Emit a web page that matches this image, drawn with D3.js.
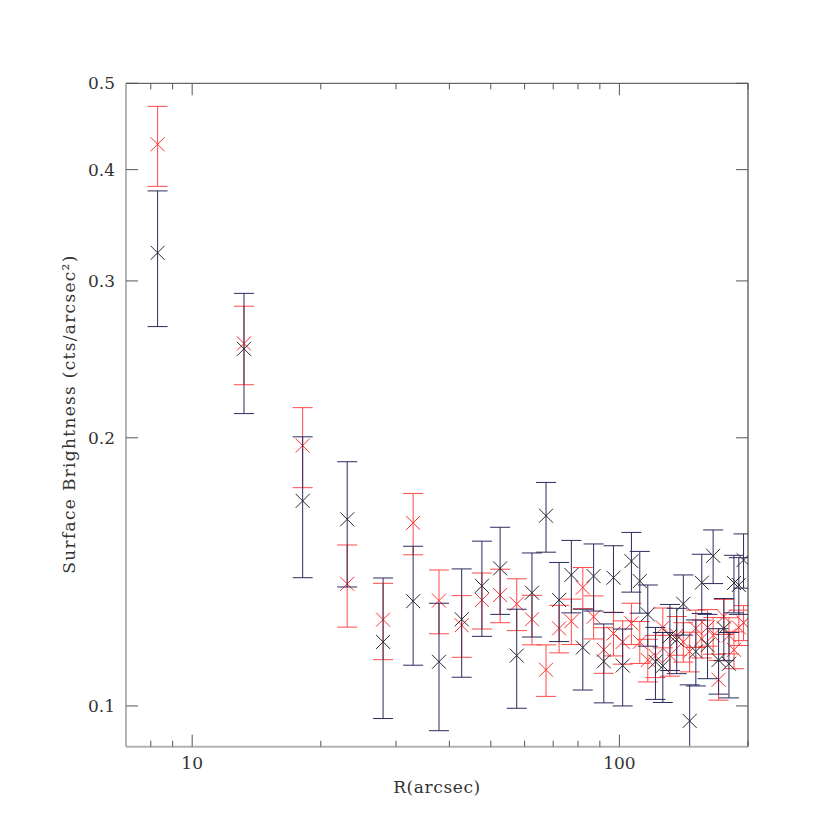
<!DOCTYPE html>
<html>
<head>
<meta charset="utf-8">
<script src="https://cdn.jsdelivr.net/npm/d3@7"></script>
<style>
  body { margin: 0; background: #fff; }
  text { font-family: "DejaVu Serif", serif; fill: #333; }
</style>
</head>
<body>
<div id="chart"></div>
<script>
// radius of each annulus (arcsec)
var radius = [8.30, 13.22, 18.14, 23.06, 27.98, 32.90, 37.82, 42.74, 47.66, 52.58,
  57.50, 62.42, 67.34, 72.26, 77.18, 82.10, 87.02, 91.94, 96.86, 101.78,
  106.70, 111.62, 116.54, 121.46, 126.38, 131.30, 136.22, 141.14, 146.06, 150.98,
  155.90, 160.82, 165.74, 170.66, 175.58, 180.50, 185.42, 190.34, 195.26];

// black series
var sbBlack = [0.3226, 0.2517, 0.1699, 0.1620, 0.1180, 0.1311, 0.1121, 0.1251, 0.1364, 0.1427,
  0.1139, 0.1340, 0.1635, 0.1315, 0.1403, 0.1163, 0.1399, 0.1122, 0.1393, 0.1110,
  0.1454, 0.1381, 0.1267, 0.1121, 0.1109, 0.1198, 0.1187, 0.1302, 0.0962, 0.1151,
  0.1375, 0.1170, 0.1474, 0.1126, 0.1222, 0.1115, 0.1374, 0.1367, 0.1458];
var errBlack = [0.0560, 0.0388, 0.0306, 0.0260, 0.0212, 0.0200, 0.0183, 0.0174, 0.0167, 0.0160,
  0.0145, 0.0145, 0.0147, 0.0134, 0.0131, 0.0121, 0.0121, 0.0114, 0.0120, 0.0110,
  0.0112, 0.0110, 0.0100, 0.0104, 0.0100, 0.0102, 0.0100, 0.0101, 0.0094, 0.0098,
  0.0105, 0.0097, 0.0102, 0.0095, 0.0098, 0.0094, 0.0102, 0.0100, 0.0102];

// red series
var sbRed = [0.4271, 0.2552, 0.1960, 0.1371, 0.1250, 0.1605, 0.1313, 0.1232, 0.1315, 0.1332,
  0.1302, 0.1251, 0.1098, 0.1222, 0.1245, 0.1358, 0.1259, 0.1156, 0.1206, 0.1180,
  0.1238, 0.1180, 0.1126, 0.1138, 0.1225, 0.1140, 0.1200, 0.1180, 0.1151, 0.1222,
  0.1190, 0.1225, 0.1200, 0.1070, 0.1260, 0.1200, 0.1156, 0.1225, 0.1240];
var errRed = [0.0440, 0.0258, 0.0202, 0.0145, 0.0123, 0.0127, 0.0108, 0.0098, 0.0095, 0.0092,
  0.0087, 0.0080, 0.0073, 0.0075, 0.0073, 0.0072, 0.0070, 0.0068, 0.0068, 0.0066,
  0.0066, 0.0064, 0.0062, 0.0062, 0.0063, 0.0060, 0.0060, 0.0060, 0.0059, 0.0059,
  0.0058, 0.0058, 0.0057, 0.0055, 0.0057, 0.0056, 0.0055, 0.0056, 0.0056];

var xMajor = [10, 100];
var xMinor = [8, 9, 20, 30, 40, 50, 60, 70, 80, 90, 200];
var yMajor = [0.1, 0.2, 0.3, 0.4, 0.5];

(function() {
  var width = 830, height = 830;
  var pL = 126, pR = 748, pT = 83.3, pB = 746.7;

  var svg = d3.select("#chart").append("svg")
    .attr("width", width)
    .attr("height", height);

  var x = d3.scaleLog().domain([7, 200]).range([pL, pR]);
  var y = d3.scaleLog().domain([0.09, 0.5]).range([pB, pT]);

  svg.append("clipPath").attr("id", "plotclip")
    .append("rect")
    .attr("x", pL).attr("y", pT)
    .attr("width", pR - pL).attr("height", pB - pT);

  var plot = svg.append("g").attr("clip-path", "url(#plotclip)");

  function lo(d) { return y(Math.max(d.v - d.e, 0.05)); }
  function hi(d) { return y(d.v + d.e); }

  function drawSeries(vals, errs, barColor, markColor) {
    var pts = radius.map(function(r, i) { return { r: r, v: vals[i], e: errs[i] }; });
    var g = plot.append("g");
    var cap = 10, mk = 7;
    var bars = g.selectAll("g.bar").data(pts).enter().append("g")
      .attr("stroke", barColor).attr("stroke-width", 1).attr("fill", "none");
    bars.append("line")
      .attr("x1", function(d) { return x(d.r); }).attr("x2", function(d) { return x(d.r); })
      .attr("y1", hi).attr("y2", lo);
    bars.append("line")
      .attr("x1", function(d) { return x(d.r) - cap; }).attr("x2", function(d) { return x(d.r) + cap; })
      .attr("y1", hi).attr("y2", hi);
    bars.append("line")
      .attr("x1", function(d) { return x(d.r) - cap; }).attr("x2", function(d) { return x(d.r) + cap; })
      .attr("y1", lo).attr("y2", lo);

    g.selectAll("path.mark").data(pts).enter().append("path")
      .attr("class", "mark")
      .attr("d", function(d) {
        var cx = x(d.r), cy = y(d.v);
        return "M" + (cx - mk) + "," + (cy - mk) + "L" + (cx + mk) + "," + (cy + mk) +
          "M" + (cx - mk) + "," + (cy + mk) + "L" + (cx + mk) + "," + (cy - mk);
      })
      .attr("stroke", markColor).attr("stroke-width", 1).attr("fill", "none");
  }

  drawSeries(sbRed, errRed, "#ff4a4a", "#ff3030");
  drawSeries(sbBlack, errBlack, "#2b2b5e", "#2a2a2a");

  // frame
  svg.append("line").attr("x1", pL).attr("x2", pR).attr("y1", pT).attr("y2", pT)
    .attr("stroke", "#444").attr("stroke-width", 1);
  svg.append("line").attr("x1", pR).attr("x2", pR).attr("y1", pT).attr("y2", pB)
    .attr("stroke", "#222").attr("stroke-width", 1);
  svg.append("line").attr("x1", pL).attr("x2", pL).attr("y1", pT).attr("y2", pB)
    .attr("stroke", "#b4b4b4").attr("stroke-width", 2);
  svg.append("line").attr("x1", pL).attr("x2", pR).attr("y1", pB).attr("y2", pB)
    .attr("stroke", "#b4b4b4").attr("stroke-width", 2);

  // ticks
  var ticks = svg.append("g").attr("stroke", "#555").attr("stroke-width", 1);
  xMajor.forEach(function(t) {
    ticks.append("line").attr("x1", x(t)).attr("x2", x(t)).attr("y1", pB).attr("y2", pB - 12);
    ticks.append("line").attr("x1", x(t)).attr("x2", x(t)).attr("y1", pT).attr("y2", pT + 12);
  });
  xMinor.forEach(function(t) {
    ticks.append("line").attr("x1", x(t)).attr("x2", x(t)).attr("y1", pB).attr("y2", pB - 6);
    ticks.append("line").attr("x1", x(t)).attr("x2", x(t)).attr("y1", pT).attr("y2", pT + 6);
  });
  yMajor.forEach(function(t) {
    ticks.append("line").attr("x1", pL).attr("x2", pL + 12).attr("y1", y(t)).attr("y2", y(t));
    ticks.append("line").attr("x1", pR).attr("x2", pR - 12).attr("y1", y(t)).attr("y2", y(t));
  });

  // tick labels
  svg.selectAll("text.xt").data(xMajor).enter().append("text")
    .attr("x", function(d) { return x(d); }).attr("y", 769)
    .attr("text-anchor", "middle").attr("font-size", 17)
    .text(function(d) { return d; });
  svg.selectAll("text.yt").data(yMajor).enter().append("text")
    .attr("x", 115).attr("y", function(d) { return y(d) + 6; })
    .attr("text-anchor", "end").attr("font-size", 17)
    .text(function(d) { return d3.format(".1f")(d); });

  // axis titles
  svg.append("text").attr("x", 437).attr("y", 793)
    .attr("text-anchor", "middle").attr("font-size", 17).attr("letter-spacing", 0.6)
    .text("R(arcsec)");
  svg.append("text").attr("transform", "translate(75,414) rotate(-90)")
    .attr("text-anchor", "middle").attr("font-size", 17).attr("letter-spacing", 1.3)
    .text("Surface Brightness (cts/arcsec²)");
})();
</script>
</body>
</html>
